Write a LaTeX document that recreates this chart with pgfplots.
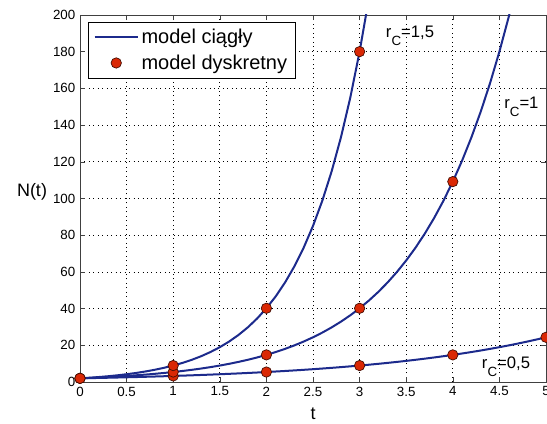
\documentclass[border=0pt]{standalone}
\usepackage{fontspec}
\setmainfont{Liberation Sans}
\usepackage{pgfplots}
\pgfplotsset{compat=1.18}
\usetikzlibrary{calc}

\definecolor{curveblue}{RGB}{28,42,140}
\definecolor{dotred}{RGB}{218,40,5}

\begin{document}
\begin{tikzpicture}
\begin{axis}[
    name=ax,
    scale only axis,
    width=349.5pt, height=275.25pt,
    xmin=0, xmax=5, ymin=0, ymax=200,
    xtick={0,0.5,...,5}, ytick={0,20,...,200},
    tick align=inside,
    major tick length=4pt,
    axis line style={black!75},
    every tick/.style={black!75},
    grid=major,
    grid style={black, line width=0.5pt, dash pattern=on 0.75pt off 2.6pt},
    tick label style={font=\fontsize{10}{12}\selectfont},
    /pgf/number format/assume math mode=true,
    /pgf/number format/fixed,
    xlabel={t},
    ylabel={N(t)},
    label style={font=\fontsize{13.5}{16}\selectfont},
    xlabel style={at={(rel axis cs:0.5,0)}, anchor=center, yshift=-24pt},
    ylabel style={rotate=-90, at={(rel axis cs:-0.103,0.518)}, anchor=center},
    legend style={at={(rel axis cs:0.0172,0.981)}, anchor=north west,
        draw=black, font=\fontsize{15}{18}\selectfont,
        inner xsep=4pt, inner ysep=3pt, row sep=3pt},
    legend cell align=left,
    legend image code/.code={\draw[#1,mark repeat=2,mark phase=2] plot coordinates {(0cm,0cm)(0.57cm,0cm)(1.14cm,0cm)};},
]

% model ciagly, r_C = 0,5
\addplot[curveblue, line width=1.5pt, no marks] coordinates {
(0,2) (0.1,2.1025) (0.2,2.2103) (0.3,2.3237) (0.4,2.4428) (0.5,2.5681)
(0.6,2.6997) (0.7,2.8381) (0.8,2.9836) (0.9,3.1366) (1,3.2974)
(1.1,3.4665) (1.2,3.6442) (1.3,3.8311) (1.4,4.0275) (1.5,4.2340)
(1.6,4.4511) (1.7,4.6793) (1.8,4.9192) (1.9,5.1714) (2,5.4366)
(2.1,5.7153) (2.2,6.0083) (2.3,6.3164) (2.4,6.6402) (2.5,6.9807)
(2.6,7.3386) (2.7,7.7149) (2.8,8.1104) (2.9,8.5262) (3,8.9634)
(3.1,9.4229) (3.2,9.9061) (3.3,10.414) (3.4,10.948) (3.5,11.509)
(3.6,12.099) (3.7,12.720) (3.8,13.372) (3.9,14.057) (4,14.778)
(4.1,15.536) (4.2,16.332) (4.3,17.170) (4.4,18.050) (4.5,18.975)
(4.6,19.948) (4.7,20.971) (4.8,22.046) (4.9,23.177) (5,24.365)
};
\addlegendentry{model ciągły}

% r_C = 1
\addplot[curveblue, line width=1.5pt, no marks, forget plot] coordinates {
(0,2) (0.1,2.2103) (0.2,2.4428) (0.3,2.6997) (0.4,2.9836) (0.5,3.2974)
(0.6,3.6442) (0.7,4.0275) (0.8,4.4511) (0.9,4.9192) (1,5.4366)
(1.1,6.0083) (1.2,6.6402) (1.3,7.3386) (1.4,8.1104) (1.5,8.9634)
(1.6,9.9061) (1.7,10.948) (1.8,12.099) (1.9,13.372) (2,14.778)
(2.1,16.332) (2.2,18.050) (2.3,19.948) (2.4,22.046) (2.5,24.365)
(2.6,26.927) (2.7,29.759) (2.8,32.889) (2.9,36.348) (3,40.171)
(3.1,44.396) (3.2,49.065) (3.3,54.225) (3.4,59.928) (3.5,66.231)
(3.6,73.196) (3.7,80.895) (3.8,89.402) (3.9,98.805) (4,109.196)
(4.1,120.681) (4.2,133.373) (4.3,147.400) (4.4,162.902) (4.5,180.034)
(4.6,198.969) (4.7,219.89)
};

% r_C = 1,5
\addplot[curveblue, line width=1.5pt, no marks, forget plot] coordinates {
(0,2) (0.1,2.3237) (0.2,2.6997) (0.3,3.1366) (0.4,3.6442) (0.5,4.2340)
(0.6,4.9192) (0.7,5.7153) (0.8,6.6402) (0.9,7.7149) (1,8.9634)
(1.1,10.414) (1.2,12.099) (1.3,14.057) (1.4,16.332) (1.5,18.975)
(1.6,22.046) (1.7,25.614) (1.8,29.759) (1.9,34.576) (2,40.171)
(2.1,46.672) (2.2,54.225) (2.3,63.001) (2.4,73.196) (2.5,85.042)
(2.6,98.805) (2.7,114.795) (2.8,133.373) (2.9,154.957) (3,180.034)
(3.1,209.17) (3.2,243.02)
};

% model dyskretny
\addplot[only marks, mark=*, mark size=3.9pt, mark options={fill=dotred, draw=black!70!dotred, line width=0.5pt}]
    coordinates {(0,2) (1,3.2974) (2,5.4366) (3,8.9634) (4,14.778) (5,24.365)};
\addlegendentry{model dyskretny}
\addplot[only marks, mark=*, mark size=3.9pt, mark options={fill=dotred, draw=black!70!dotred, line width=0.5pt}, forget plot]
    coordinates {(0,2) (1,5.4366) (2,14.778) (3,40.171) (4,109.196)};
\addplot[only marks, mark=*, mark size=3.9pt, mark options={fill=dotred, draw=black!70!dotred, line width=0.5pt}, forget plot]
    coordinates {(0,2) (1,8.9634) (2,40.171) (3,180.034)};

\node[anchor=base west, font=\fontsize{12.5}{15}\selectfont, inner sep=0pt] at (axis cs:3.28,188) {r\raisebox{-1ex}{\fontsize{10}{12}\selectfont C}=1,5};
\node[anchor=base west, font=\fontsize{12.5}{15}\selectfont, inner sep=0pt] at (axis cs:4.55,149.3) {r\raisebox{-1ex}{\fontsize{10}{12}\selectfont C}=1};
\node[anchor=base west, font=\fontsize{12.5}{15}\selectfont, inner sep=0pt] at (axis cs:4.31,7.6) {r\raisebox{-1ex}{\fontsize{10}{12}\selectfont C}=0,5};
\end{axis}
\pgfresetboundingbox
\path[use as bounding box] ($(ax.south west)+(-60pt,-30.75pt)$) rectangle ($(ax.north east)+(0.75pt,11.25pt)$);
\end{tikzpicture}
\end{document}
